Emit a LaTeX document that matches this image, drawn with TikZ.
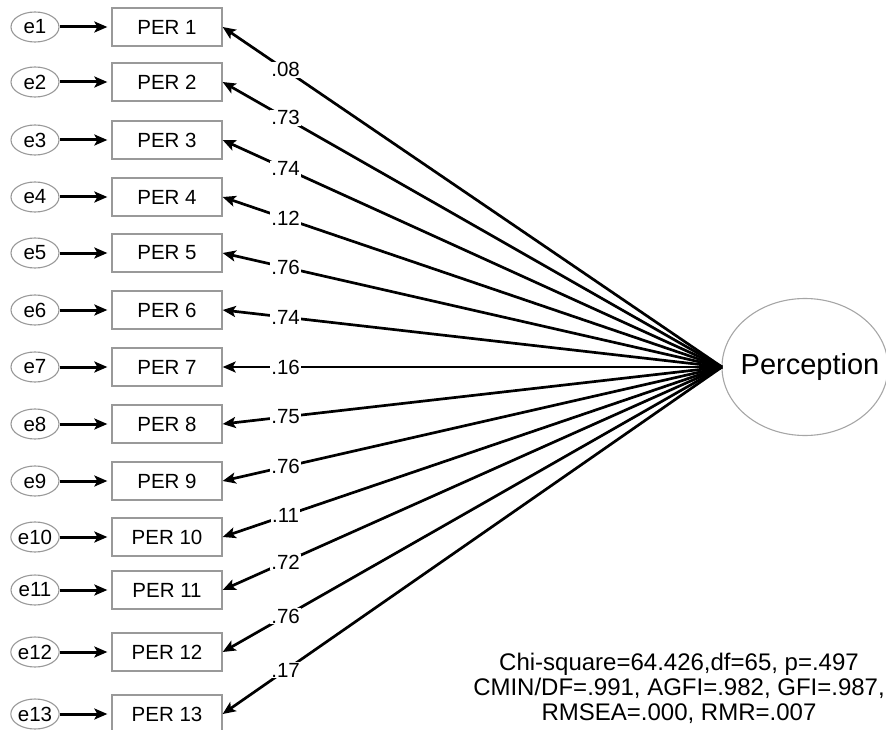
\documentclass[tikz,border=0pt]{standalone}
\usepackage{fontspec}
\setmainfont{Liberation Sans}
\usetikzlibrary{arrows.meta,shapes.geometric}
\tikzset{
  errnode/.style={draw=gray!80, line width=1.1pt, ellipse, minimum width=48pt, minimum height=30pt, inner sep=0pt, font=\fontsize{20.5}{21}\selectfont},
  obsnode/.style={draw=gray!80, line width=1.3pt, rectangle, minimum width=110pt, minimum height=38pt, inner sep=0pt, font=\fontsize{20.5}{21}\selectfont},
  latnode/.style={draw=gray!70, line width=1.1pt, ellipse, minimum width=166pt, minimum height=137pt, inner sep=0pt},
  errarrow/.style={line width=3pt, -{Stealth[length=13pt,width=11pt,inset=3pt]}, shorten >=4pt},
  loadarrow/.style={line width=2.7pt, -{Stealth[length=13pt,width=11pt,inset=3pt]}},
  coef/.style={fill=white, inner sep=1pt, font=\fontsize{20.5}{21}\selectfont},
  fitnode/.style={align=center, font=\fontsize{24}{25}\selectfont, inner sep=0pt}
}
\begin{document}
\begin{tikzpicture}[x=1pt, y=-1pt]
\useasboundingbox (0,0) rectangle (886,730);
\begin{scope}
\clip (0,0) rectangle (886,730);
\node[latnode] (P) at (805,367) {};
\node[font=\fontsize{29}{30}\selectfont] (Ptext) at (810,367) {Perception};
\coordinate (c) at (722,367);
\foreach \i/\yy/\v in {1/27/.08, 2/82/.73, 3/140/.74, 4/197/.12, 5/253/.76, 6/310/.74, 7/367/.16, 8/424/.75, 9/481/.76, 10/537/.11, 11/590/.72, 12/652/.76, 13/714/.17}{
  \node[errnode] (e\i) at (35,\yy) {e\i};
  \node[obsnode] (p\i) at (167,\yy) {PER \i};
  \draw[errarrow] (e\i) -- (p\i);
  \draw[loadarrow] (c) -- node[coef, pos=0.874] (l\i) {\v} (p\i.east);
}
\node[fitnode] (fit) at (679,688) {Chi-square=64.426,df=65, p=.497\\CMIN/DF=.991, AGFI=.982, GFI=.987,\\RMSEA=.000, RMR=.007};
\end{scope}
\end{tikzpicture}
\end{document}
